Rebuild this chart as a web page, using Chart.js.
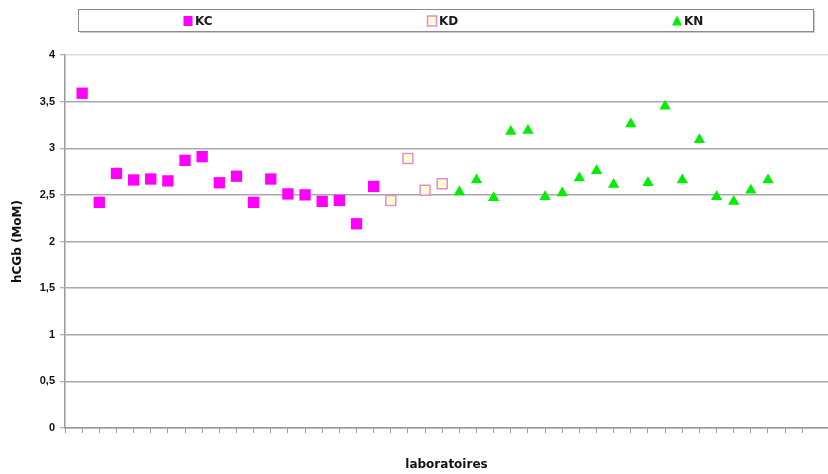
<!DOCTYPE html>
<html>
<head>
<meta charset="utf-8">
<script src="https://cdn.jsdelivr.net/npm/chart.js@4.4.1/dist/chart.umd.min.js"></script>
<style>
  html, body { margin: 0; padding: 0; background: #fff; }
  #wrap { width: 828px; height: 474px; position: relative; }
</style>
</head>
<body>
<div id="wrap"><canvas id="labChart"></canvas></div>
<script>
// hCGb (MoM) per laboratoire, by kit group
const seriesNames = ["KC", "KD", "KN"];
const kcValues = [3.59, 2.42, 2.73, 2.66, 2.67, 2.65, 2.87, 2.91, 2.63, 2.70, 2.42, 2.67, 2.51, 2.50, 2.43, 2.44, 2.19, 2.59];
const kdValues = [2.44, 2.89, 2.55, 2.62];
const knValues = [2.53, 2.66, 2.47, 3.18, 3.19, 2.48, 2.52, 2.68, 2.76, 2.61, 3.26, 2.63, 3.45, 2.66, 3.09, 2.48, 2.43, 2.55, 2.66];
const yTicks = [0, 0.5, 1, 1.5, 2, 2.5, 3, 3.5, 4];

// labs are numbered one after another: KC first, then KD, then KN
const toPoints = (values, firstLab) => values.map((v, i) => ({ x: firstLab + i, y: v }));
const kcPoints = toPoints(kcValues, 1);
const kdPoints = toPoints(kdValues, 1 + kcValues.length);
const knPoints = toPoints(knValues, 1 + kcValues.length + kdValues.length);

const FONT = "'Liberation Sans', Arial, sans-serif";
const TITLE_FONT = "'DejaVu Sans', Verdana, sans-serif";

// legend drawn inside a framed box, items spread across like the original
const boxLegend = {
    id: "boxLegend",
    afterDraw(chart) {
        const ctx = chart.ctx;
        const left = 78, right = 813, top = 9, bottom = 31;
        ctx.save();
        ctx.fillStyle = "#fff";
        ctx.fillRect(left, top, right - left, bottom - top);
        ctx.strokeStyle = "#8c8c8c";
        ctx.lineWidth = 1;
        ctx.strokeRect(left + 0.5, top + 0.5, right - left, bottom - top);
        ctx.strokeStyle = "#c8c8c8";
        ctx.beginPath();
        ctx.moveTo(left + 2, bottom + 1.5);
        ctx.lineTo(right + 1.5, bottom + 1.5);
        ctx.lineTo(right + 1.5, top + 2);
        ctx.stroke();

        const markerX = [188, 432, 677];
        const cy = 21;
        chart.data.datasets.forEach((ds, i) => {
            const mx = markerX[i];
            ctx.fillStyle = ds.backgroundColor;
            ctx.strokeStyle = ds.borderColor;
            ctx.lineWidth = ds.borderWidth;
            ctx.beginPath();
            if (ds.pointStyle === "triangle") {
                ctx.moveTo(mx, cy - 5.5);
                ctx.lineTo(mx + 5, cy + 4.5);
                ctx.lineTo(mx - 5, cy + 4.5);
                ctx.closePath();
            } else {
                ctx.rect(mx - 4.5, cy - 5, 9, 10);
            }
            ctx.fill();
            if (ds.borderWidth) ctx.stroke();

            ctx.fillStyle = "#1a1a1a";
            ctx.font = "bold 12px " + TITLE_FONT;
            ctx.textBaseline = "middle";
            ctx.textAlign = "left";
            ctx.fillText(ds.label, mx + 7, cy + 0.5);
        });
        ctx.restore();
    }
};

new Chart(document.getElementById("labChart"), {
    type: "scatter",
    data: {
        datasets: [
            {
                label: seriesNames[0], data: kcPoints, pointStyle: "rect", pointRadius: 8,
                backgroundColor: "#ff00ff", borderColor: "#ff00ff", borderWidth: 0
            },
            {
                label: seriesNames[1], data: kdPoints, pointStyle: "rect", pointRadius: 7,
                backgroundColor: "#ffffcc", borderColor: "#e68ad8", borderWidth: 1.5
            },
            {
                label: seriesNames[2], data: knPoints, pointStyle: "triangle", pointRadius: 6.5,
                backgroundColor: "#00ee00", borderColor: "#00ee00", borderWidth: 0
            }
        ]
    },
    options: {
        responsive: true,
        maintainAspectRatio: false,
        animation: false,
        layout: { autoPadding: false, padding: { top: 55, right: 0, bottom: 0, left: 0 } },
        plugins: {
            legend: { display: false },
            tooltip: { enabled: false }
        },
        scales: {
            x: {
                type: "linear",
                min: 0,
                max: 44.5,
                afterBuildTicks: (scale) => {
                    scale.ticks = scale.ticks.filter(t => Number.isInteger(t.value));
                },
                afterFit: (scale) => { scale.height = 46; },
                ticks: { stepSize: 1, display: false },
                grid: { drawOnChartArea: false, drawTicks: true, tickLength: 5, color: "#9a9a9a", lineWidth: 1 },
                border: { display: true, color: "#9a9a9a", width: 1.5 },
                title: {
                    display: true, text: "laboratoires", color: "#111",
                    font: { family: TITLE_FONT, size: 12, weight: "bold" },
                    padding: { top: 0, bottom: 2 }
                }
            },
            y: {
                min: 0,
                max: 4,
                afterBuildTicks: (scale) => {
                    scale.ticks = yTicks.map(v => ({ value: v }));
                },
                afterFit: (scale) => { scale.width = 65; },
                ticks: {
                    padding: 5,
                    color: "#111",
                    font: { family: FONT, size: 11, weight: "bold" },
                    callback: (v) => String(v).replace(".", ",")
                },
                grid: {
                    color: (c) => (c.tick && c.tick.value === 4 ? "#dadada" : "#a8a8a8"),
                    lineWidth: 1.5,
                    tickLength: 5,
                    tickColor: "#9a9a9a",
                    tickWidth: 1
                },
                border: { display: true, color: "#9a9a9a", width: 1.5 },
                title: {
                    display: true, text: "hCGb (MoM)", color: "#111",
                    font: { family: TITLE_FONT, size: 12, weight: "bold" },
                    padding: { top: 11, bottom: 0 }
                }
            }
        }
    },
    plugins: [boxLegend]
});
</script>
</body>
</html>
